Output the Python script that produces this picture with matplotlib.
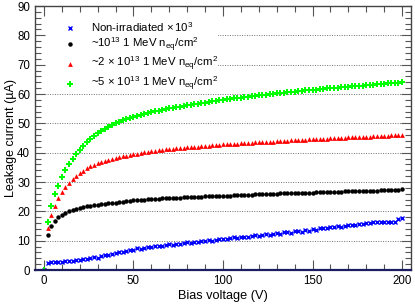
import numpy as np
import matplotlib as mpl
mpl.use('Agg')
import matplotlib.pyplot as plt
from matplotlib.patches import Rectangle
from matplotlib.ticker import MultipleLocator

plt.rcParams['font.family'] = ['Liberation Sans', 'DejaVu Sans']
plt.rcParams['mathtext.fontset'] = 'custom'
plt.rcParams['mathtext.rm'] = 'Liberation Sans'
plt.rcParams['mathtext.it'] = 'Liberation Sans:italic'
plt.rcParams['mathtext.bf'] = 'Liberation Sans:bold'

# Data, bias voltage in V, current in uA
voltage = np.concatenate(([0], np.arange(2, 202, 2)))

non_irr = [0.0,
           2.4, 2.6, 2.6, 2.8, 2.8, 3.0, 3.1, 3.2, 3.4, 3.4,
           3.7, 3.9, 4.0, 4.3, 4.2, 4.7, 5.0, 5.1, 5.6, 5.9,
           6.0, 6.3, 6.5, 6.9, 6.9, 7.4, 7.3, 7.6, 8.0, 7.9,
           8.2, 8.3, 8.2, 8.6, 8.7, 8.6, 9.0, 8.9, 9.1, 9.4,
           9.3, 9.6, 9.6, 9.9, 9.8, 10.1, 10.0, 10.4, 10.5, 10.7,
           10.6, 10.9, 11.1, 10.9, 11.3, 11.4, 11.2, 11.7, 11.8, 11.6,
           12.0, 12.2, 12.1, 12.4, 12.6, 12.4, 12.8, 12.9, 12.7, 13.2,
           13.3, 13.1, 13.6, 13.4, 14.1, 13.8, 14.3, 14.4, 14.3, 14.6,
           14.6, 14.9, 14.5, 15.0, 15.2, 15.2, 15.5, 15.6, 15.8, 15.9,
           16.1, 16.2, 16.3, 16.2, 16.4, 16.5, 16.5, 16.4, 17.4, 17.9]

fl_1e13 = [0.0,
           11.9, 15.0, 16.7, 18.0, 18.9, 19.6, 20.1, 20.5, 20.9, 21.2,
           21.5, 21.7, 21.9, 22.1, 22.3, 22.4, 22.6, 22.7, 22.9, 23.0,
           23.2, 23.3, 23.5, 23.6, 23.7, 23.8, 23.9, 24.0, 24.1, 24.2,
           24.3, 24.3, 24.4, 24.5, 24.5, 24.6, 24.7, 24.7, 24.8, 24.8,
           24.9, 24.9, 25.0, 25.0, 25.1, 25.1, 25.2, 25.2, 25.3, 25.3,
           25.4, 25.4, 25.5, 25.5, 25.6, 25.6, 25.7, 25.7, 25.8, 25.8,
           25.9, 25.9, 25.9, 26.0, 26.0, 26.1, 26.1, 26.1, 26.2, 26.2,
           26.3, 26.3, 26.3, 26.4, 26.4, 26.5, 26.5, 26.5, 26.6, 26.6,
           26.7, 26.7, 26.7, 26.8, 26.8, 26.9, 26.9, 26.9, 27.0, 27.0,
           27.1, 27.1, 27.1, 27.2, 27.2, 27.3, 27.3, 27.3, 27.4, 27.5]

fl_2e13 = [0.0,
           14.2, 18.7, 21.9, 24.4, 26.5, 28.3, 29.8, 31.1, 32.2, 33.1,
           33.9, 34.7, 35.3, 35.9, 36.4, 36.9, 37.3, 37.6, 38.0, 38.3,
           38.5, 38.8, 39.0, 39.3, 39.5, 39.7, 39.9, 40.1, 40.3, 40.5,
           40.6, 40.8, 40.9, 41.1, 41.2, 41.3, 41.5, 41.6, 41.7, 41.8,
           41.9, 42.0, 42.1, 42.2, 42.3, 42.4, 42.5, 42.6, 42.7, 42.8,
           42.9, 43.0, 43.0, 43.1, 43.2, 43.3, 43.4, 43.4, 43.5, 43.6,
           43.6, 43.7, 43.8, 43.8, 43.9, 44.0, 44.0, 44.1, 44.2, 44.2,
           44.3, 44.4, 44.4, 44.5, 44.6, 44.6, 44.7, 44.7, 44.8, 44.9,
           44.9, 45.0, 45.0, 45.1, 45.2, 45.2, 45.3, 45.3, 45.4, 45.5,
           45.5, 45.6, 45.6, 45.7, 45.8, 45.8, 45.9, 45.9, 46.0, 46.1]

fl_5e13 = [0.0,
           16.5, 21.8, 25.8, 28.8, 31.6, 34.0, 36.0, 38.0, 39.6, 41.0,
           42.4, 43.6, 44.7, 45.7, 46.6, 47.4, 48.1, 48.8, 49.4, 50.0,
           50.5, 51.0, 51.4, 51.8, 52.2, 52.6, 52.9, 53.2, 53.5, 53.8,
           54.1, 54.3, 54.6, 54.8, 55.1, 55.3, 55.5, 55.7, 55.9, 56.1,
           56.3, 56.5, 56.7, 56.9, 57.1, 57.3, 57.5, 57.7, 57.9, 58.1,
           58.2, 58.4, 58.5, 58.7, 58.8, 59.0, 59.1, 59.3, 59.4, 59.6,
           59.7, 59.8, 60.0, 60.1, 60.2, 60.3, 60.5, 60.6, 60.7, 60.8,
           61.0, 61.1, 61.2, 61.3, 61.4, 61.5, 61.6, 61.7, 61.9, 62.0,
           62.1, 62.2, 62.3, 62.4, 62.5, 62.6, 62.7, 62.8, 62.9, 63.0,
           63.1, 63.2, 63.3, 63.4, 63.5, 63.6, 63.7, 63.8, 63.9, 64.1]

labels = [r'Non-irradiated $\times\,10^{3}$',
          r'~10$^{13}$ 1 MeV n$_{\mathrm{eq}}$/cm$^{2}$',
          r'~2 $\times$ 10$^{13}$ 1 MeV n$_{\mathrm{eq}}$/cm$^{2}$',
          r'~5 $\times$ 10$^{13}$ 1 MeV n$_{\mathrm{eq}}$/cm$^{2}$']
grid_levels = [10, 20, 30, 40, 50, 60, 70, 80]

fig = plt.figure(figsize=(4.15, 3.04), dpi=100)
ax = fig.add_axes([0.0843, 0.1118, 0.906, 0.8684])

ax.plot(voltage, non_irr, ls='none', marker='x', ms=2.6, mew=1.0, color='#0000ff', label=labels[0], zorder=2)
ax.plot(voltage, fl_1e13, ls='none', marker='o', ms=3.2, mew=0, color='black', label=labels[1], zorder=2)
ax.plot(voltage, fl_2e13, ls='none', marker='^', ms=3.4, mew=0, color='#ff0000', label=labels[2], zorder=2)
ax.plot(voltage, fl_5e13, ls='none', marker='P', ms=4.0, mew=0, color='#00ff00', label=labels[3], zorder=2)

ax.set_xlim(-5, 205)
ax.set_ylim(0, 90)

# dotted horizontal grid, kept under a white legend area
ax.hlines(grid_levels, 0, 1, transform=ax.get_yaxis_transform(), colors='#707070',
          linestyles=(0, (1, 1.5)), linewidth=0.7, zorder=1)
ax.add_patch(Rectangle((0, 0.69), 0.487, 0.31, transform=ax.transAxes,
                       facecolor='white', edgecolor='none', zorder=1.5))

ax.xaxis.set_major_locator(MultipleLocator(50))
ax.xaxis.set_minor_locator(MultipleLocator(10))
ax.yaxis.set_major_locator(MultipleLocator(10))
ax.yaxis.set_minor_locator(MultipleLocator(2))
ax.tick_params(which='both', direction='in', top=True, right=True, colors='#555555',
               labelcolor='black', labelsize=8.3, width=0.8, pad=3.5)
ax.tick_params(which='major', length=7.5)
ax.tick_params(which='minor', length=4.3)

for s in ['top', 'right', 'left']:
    ax.spines[s].set_color('#444444')
    ax.spines[s].set_linewidth(1.0)
ax.spines['bottom'].set_color('#1c1c60')
ax.spines['bottom'].set_linewidth(1.6)

ax.set_xlabel('Bias voltage (V)', fontsize=9.2)
ax.set_ylabel('Leakage current (µA)', fontsize=9.0)
ax.xaxis.set_label_coords(0.5, -0.075)
ax.yaxis.set_label_coords(-0.047, 0.5)

ax.legend(loc='upper left', bbox_to_anchor=(0.063, 0.965), frameon=False, fontsize=8.2,
          handlelength=1.2, handletextpad=1.25, labelspacing=0.15, borderaxespad=0)

plt.savefig('out.png', dpi=100)
